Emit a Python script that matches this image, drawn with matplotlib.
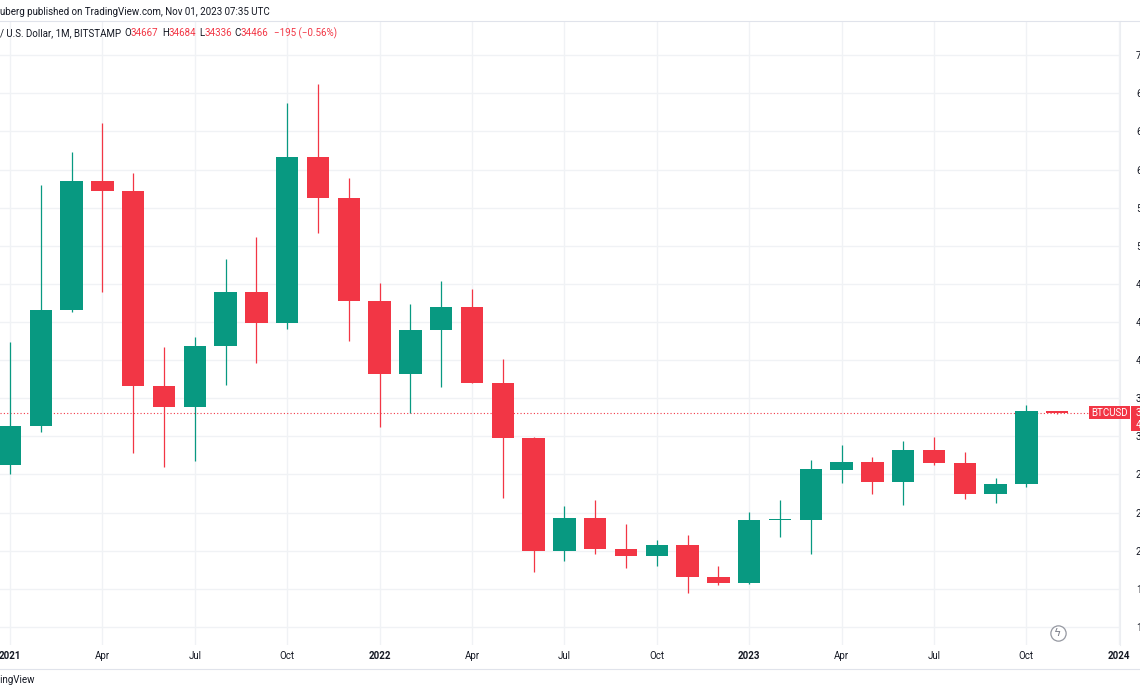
import matplotlib
matplotlib.use("Agg")
import matplotlib.pyplot as plt
from matplotlib.lines import Line2D
from matplotlib.patches import Rectangle

# monthly BTCUSD candles, Jan 2021 .. Nov 2023 (Bitstamp)
months = ["2021-01", "2021-02", "2021-03", "2021-04", "2021-05", "2021-06",
          "2021-07", "2021-08", "2021-09", "2021-10", "2021-11", "2021-12",
          "2022-01", "2022-02", "2022-03", "2022-04", "2022-05", "2022-06",
          "2022-07", "2022-08", "2022-09", "2022-10", "2022-11", "2022-12",
          "2023-01", "2023-02", "2023-03", "2023-04", "2023-05", "2023-06",
          "2023-07", "2023-08", "2023-09", "2023-10", "2023-11"]
opens = [28990, 33110, 45240, 58760, 57740, 37330, 35060, 41490, 47180, 43850,
         61330, 56970, 46220, 38500, 43200, 45530, 37620, 31780, 19950, 23380,
         20130, 19420, 20550, 17250, 16590, 23200, 23210, 28480, 29290, 27190,
         30550, 29220, 25930, 26980, 34667]
highs = [41950, 58370, 61790, 64850, 59600, 41330, 42440, 50560, 52940, 66950,
         68980, 59080, 48050, 45880, 48290, 47450, 40100, 31950, 24700, 25300,
         22850, 21170, 21600, 18440, 24010, 25300, 29470, 31080, 29850, 31500,
         31920, 30340, 27580, 35280, 34684]
lows = [28000, 32450, 45100, 47100, 30200, 28750, 29380, 37340, 39650, 43300,
        53350, 42020, 33000, 34400, 37200, 37550, 25480, 17710, 18900, 19660,
        18230, 18370, 15570, 16380, 16520, 21450, 19660, 27120, 25900, 24810,
        28940, 25440, 24990, 26630, 34336]
closes = [33110, 45240, 58760, 57740, 37330, 35060, 41490, 47180, 43850, 61330,
          56970, 46220, 38500, 43200, 45530, 37620, 31780, 19950, 23380, 20130,
          19420, 20550, 17250, 16590, 23200, 23210, 28520, 29290, 27190, 30550,
          29220, 25930, 26980, 34670, 34466]

xtick_labels = ["2021", "Apr", "Jul", "Oct", "2022", "Apr", "Jul", "Oct",
                "2023", "Apr", "Jul", "Oct", "2024"]
price_ticks = list(range(12000, 76000, 4000))
last_price = 34466

GREEN = "#089981"
RED = "#F23645"
TXT = "#131722"
GRID = "#f0f2f5"
FS = 7

W, H = 1140, 694
fig = plt.figure(figsize=(W / 100, H / 100), dpi=100)
plt.rcParams["font.family"] = ["Roboto", "DejaVu Sans"]


def fx(x):
    return x / W


def fy(y):
    return 1 - y / H


# plot area in pixels: x 0..1120, y 21..645
ax = fig.add_axes([0, fy(645), fx(1120), (645 - 21) / H])
ax.set_xlim(-0.325, 36.04)
ax.set_ylim(10100, 75590)

for i in range(len(months)):
    o, h, l, c = opens[i], highs[i], lows[i], closes[i]
    col = GREEN if c >= o else RED
    ax.vlines(i, l, h, color=col, lw=0.9, zorder=2)
    ax.bar(i, max(abs(c - o), 110), bottom=min(o, c), width=0.73,
           color=col, lw=0, zorder=3)

# last price dotted line
ax.axhline(last_price, color=RED, lw=0.8, ls=(0, (1, 2)), zorder=1)

ax.set_xticks(range(0, 37, 3))
ax.set_xticklabels(xtick_labels)
for t in ax.get_xticklabels():
    t.set_fontsize(FS)
    t.set_color(TXT)
    if t.get_text().isdigit():
        t.set_fontweight("bold")
ax.set_yticks(price_ticks)
ax.set_yticklabels(["%d.00" % p for p in price_ticks])
ax.yaxis.tick_right()
ax.tick_params(axis="y", length=0, pad=11.5, labelsize=FS, labelcolor=TXT)
ax.tick_params(axis="x", length=0, pad=4.5)
ax.grid(True, color=GRID, lw=1)
ax.set_axisbelow(True)
for s in ["top", "left", "bottom"]:
    ax.spines[s].set_visible(False)
ax.spines["right"].set_color("#eceef2")
ax.spines["right"].set_linewidth(0.8)

# header
fig.text(fx(0), fy(12), "uberg published on TradingView.com, Nov 01, 2023 07:35 UTC",
         fontsize=FS, color=TXT, va="center", ha="left")
fig.add_artist(Line2D([0, 1], [fy(21), fy(21)], color="#e0e3eb", lw=0.8,
                      transform=fig.transFigure))
fig.text(fx(0), fy(33), "/ U.S. Dollar, 1M, BITSTAMP", fontsize=FS, color=TXT,
         va="center", ha="left")
legend_parts = [(124, "O", TXT), (131, "34667", RED), (162, "H", TXT),
                (169, "34684", RED), (199, "L", TXT), (205, "34336", RED),
                (234, "C", TXT), (241, "34466", RED), (274, "\u2212195 (\u22120.56%)", RED)]
for x, s, c in legend_parts:
    fig.text(fx(x), fy(33), s, fontsize=FS, color=c, va="center", ha="left")

# symbol and price tags on the price scale
fig.add_artist(Rectangle((fx(1089), fy(419)), fx(41), 13 / H, color=RED,
                         transform=fig.transFigure, lw=0))
fig.text(fx(1109.5), fy(412.5), "BTCUSD", fontsize=FS, color="white",
         ha="center", va="center")
fig.add_artist(Rectangle((fx(1131), fy(431)), fx(20), 25 / H, color=RED,
                         transform=fig.transFigure, lw=0))
fig.text(fx(1135.5), fy(412.5), "34466.00", fontsize=FS, color="white",
         ha="left", va="center")
fig.text(fx(1135.5), fy(425), "4d 16h", fontsize=FS, color="white",
         ha="left", va="center")

# time axis bottom border and footer
fig.add_artist(Line2D([0, 1], [fy(669), fy(669)], color="#e0e3eb", lw=0.8,
                      transform=fig.transFigure))
fig.text(fx(35), fy(680), "TradingView", fontsize=FS, color=TXT,
         ha="right", va="center")

# lightning icon
fig.add_artist(Line2D([fx(1058)], [fy(633)], marker="o", markersize=11,
                      mfc="white", mec="#9598a1", mew=0.9,
                      transform=fig.transFigure))
fig.text(fx(1058), fy(633), "\u03df", fontsize=8, color="#787b86",
         ha="center", va="center", family="DejaVu Sans")

fig.savefig("out.png", dpi=100, facecolor="white")
